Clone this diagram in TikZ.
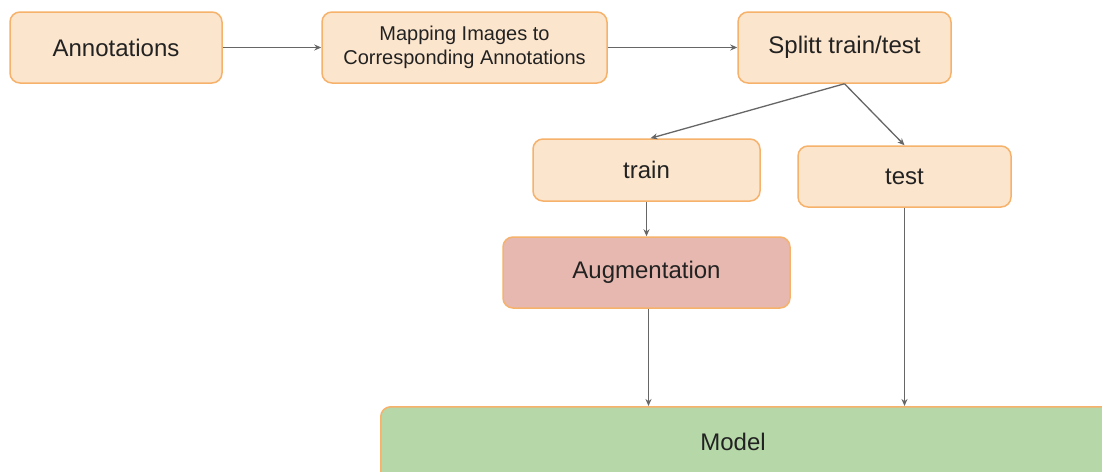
\documentclass[tikz,border=0pt]{standalone}
\usepackage{fontspec}
\setmainfont{Liberation Sans}
\usetikzlibrary{arrows.meta}
\definecolor{boxfill}{HTML}{FCE5CD}
\definecolor{boxline}{HTML}{F6B26B}
\definecolor{augfill}{HTML}{E6B8AF}
\definecolor{modelfill}{HTML}{B6D7A8}
\definecolor{arrowgray}{HTML}{666666}
\definecolor{textgray}{HTML}{222222}
\tikzset{
  stepbox/.style={draw=boxline, fill=boxfill, line width=1.5pt, rounded corners=10pt,
    align=center, text=textgray, font=\fontsize{24}{28}\selectfont, inner sep=0pt},
  smalltext/.style={font=\fontsize{20}{24}\selectfont},
  flow/.style={draw=arrowgray, line width=1.3pt, -{Stealth[length=7pt,width=6pt]}}
}
\begin{document}
\begin{tikzpicture}[x=1pt,y=-1pt]
  \useasboundingbox (0,0) rectangle (1102,471);
  \clip (0,0) rectangle (1102,471);
  \fill[white] (0,0) rectangle (1102,471);

  % pipeline boxes
  \node[stepbox, minimum width=212pt, minimum height=71pt] (ann) at (116,47.5) {Annotations};
  \node[stepbox, smalltext, minimum width=285pt, minimum height=71pt] (map) at (464.5,47.5)
    {Mapping Images to\\Corresponding Annotations};
  \node[stepbox, minimum width=213pt, minimum height=71pt] (split) at (844.5,47.5) {Splitt train/test};
  \node[stepbox, minimum width=227pt, minimum height=62pt] (train) at (646.5,170) {train};
  \node[stepbox, minimum width=213pt, minimum height=61pt] (test) at (904.5,176.5) {test};
  \node[stepbox, fill=augfill, minimum width=287pt, minimum height=71pt] (aug) at (646.5,272.5) {Augmentation};
  \node[stepbox, fill=modelfill, minimum width=760pt, minimum height=100pt, anchor=north west] (model) at (380,406) {};
  \node[text=textgray, font=\fontsize{24}{28}\selectfont] (modeltext) at (733,442) {Model};

  % connectors
  \draw[flow] (ann) -- (map);
  \draw[flow] (map) -- (split);
  \draw[flow] (split.south) -- ([xshift=4pt]train.north);
  \draw[flow] (split.south) -- (test.north);
  \draw[flow] (train) -- (aug);
  \draw[flow] ([xshift=2pt]aug.south) -- ([xshift=2pt]aug.south |- model.north);
  \draw[flow] (test.south) -- (test.south |- model.north);
\end{tikzpicture}
\end{document}
